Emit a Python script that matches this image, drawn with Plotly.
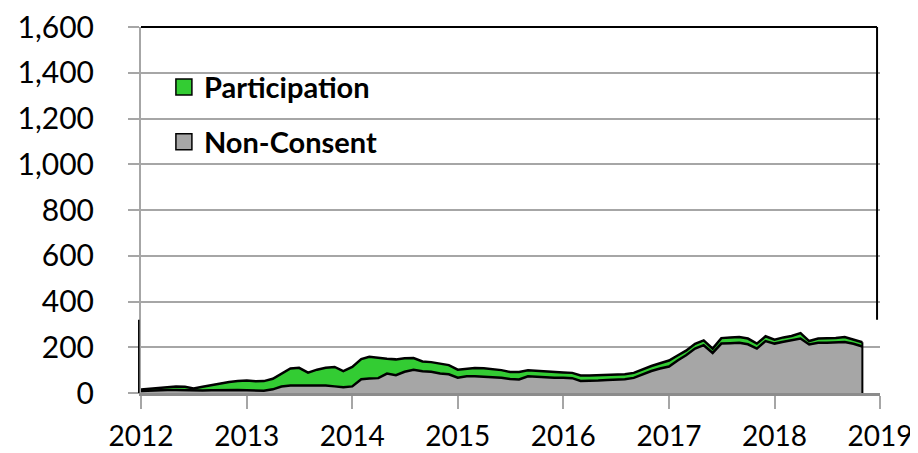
import plotly.graph_objects as go
import pandas as pd

months = pd.date_range("2012-01-01", periods=83, freq="MS")

non_consent = [9, 11, 12, 13, 13, 12, 10, 11, 12, 13, 13, 13,
               12, 11, 10, 16, 28, 33, 33, 32, 32, 33, 29, 25,
               29, 60, 63, 65, 85, 78, 93, 102, 95, 93, 85, 82,
               67, 73, 73, 72, 71, 67, 61, 59, 73, 70, 68, 67,
               67, 65, 53, 53, 55, 57, 58, 60, 66, 82, 96, 107,
               116, 143, 165, 194, 209, 175, 216, 218, 220, 213, 194, 227,
               216, 224, 230, 238, 212, 220, 220, 221, 223, 215, 203]

participation = [6, 7, 9, 13, 15, 15, 10, 16, 23, 29, 35, 39,
                 43, 40, 42, 46, 57, 74, 77, 57, 70, 77, 85, 71,
                 85, 88, 95, 88, 65, 69, 59, 51, 43, 42, 42, 40,
                 35, 34, 36, 36, 34, 33, 31, 33, 26, 26, 27, 25,
                 23, 23, 24, 24, 24, 23, 22, 22, 22, 22, 22, 23,
                 26, 22, 20, 21, 21, 19, 24, 25, 25, 25, 22, 21,
                 17, 19, 19, 24, 15, 18, 18, 19, 22, 20, 19]

series_names = ["Participation", "Non-Consent"]
green = "#33cc33"
gray = "#a6a6a6"

FONT = "Lato"

fig = go.Figure()

fig.add_trace(go.Scatter(
    x=months, y=non_consent, stackgroup="one", mode="lines",
    line=dict(color="black", width=2.5), fillcolor=gray,
    showlegend=False, hoverinfo="skip"))
fig.add_trace(go.Scatter(
    x=months, y=participation, stackgroup="one", mode="lines",
    line=dict(color="black", width=2.5), fillcolor=green,
    showlegend=False, hoverinfo="skip"))

# closing edge of the area at the last month
total_last = non_consent[-1] + participation[-1]
fig.add_trace(go.Scatter(
    x=[months[-1], months[-1]], y=[0, total_last], mode="lines",
    line=dict(color="black", width=2), showlegend=False, hoverinfo="skip"))

# legend entries
for name, col in zip(series_names, [green, gray]):
    fig.add_trace(go.Scatter(
        x=[None], y=[None], mode="markers", name=name, legendgroup=name,
        marker=dict(symbol="square", size=16, color=col,
                    line=dict(color="black", width=1.5))))

fig.update_layout(
    width=910, height=445,
    margin=dict(l=133, r=38, t=19, b=60, autoexpand=False),
    paper_bgcolor="white", plot_bgcolor="white",
    font=dict(family=FONT, color="black"),
    legend=dict(
        x=0.031, y=0.905, xanchor="left", yanchor="top",
        font=dict(family=FONT, size=29, color="black", weight="bold"),
        bgcolor="rgba(0,0,0,0)", tracegroupgap=14, traceorder="grouped",
        itemsizing="trace"),
    xaxis=dict(
        type="date", range=["2012-01-01", "2019-01-01"], automargin=False,
        dtick="M12", tick0="2012-01-01", tickformat="%Y",
        showgrid=False, showline=True, linecolor="#8c8c8c", linewidth=3,
        ticks="outside", ticklen=13, tickcolor="#a6a6a6", tickwidth=1.5,
        tickfont=dict(family=FONT, size=28, color="black"),
        ticklabelstandoff=3, ticklabeloverflow="allow"),
    yaxis=dict(
        range=[0, 1600], dtick=200, tickformat=",", automargin=False,
        showgrid=True, gridcolor="#a6a6a6", gridwidth=1.5,
        showline=True, linecolor="#a6a6a6", linewidth=2,
        ticks="outside", ticklen=11, tickcolor="#a6a6a6", tickwidth=1.5,
        tickfont=dict(family=FONT, size=30, color="black"),
        ticklabelstandoff=28, zeroline=False, ticklabeloverflow="allow"),
    shapes=[
        dict(type="line", xref="paper", yref="paper", x0=0, x1=0.996, y0=1, y1=1,
             line=dict(color="black", width=2)),
        dict(type="line", xref="paper", yref="paper", x0=0.996, x1=0.996, y0=1, y1=0.2,
             line=dict(color="black", width=2)),
        dict(type="line", xref="paper", yref="paper", x0=-0.003, x1=-0.003, y0=0, y1=0.2,
             line=dict(color="black", width=1.5)),
    ],
)

fig.write_html("out.html")
